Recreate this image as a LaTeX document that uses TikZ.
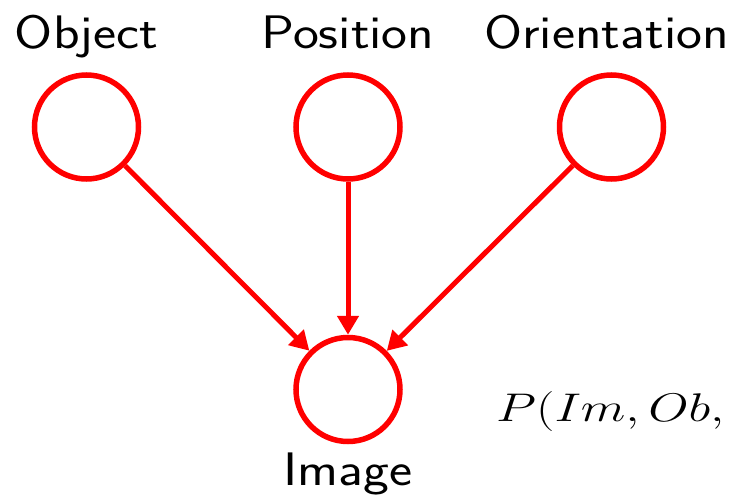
\RequirePackage{fix-cm}
\documentclass[tikz,border=0pt]{standalone}
\usepackage{graphicx}
\usetikzlibrary{positioning,arrows.meta}
\newcommand{\wide}[1]{\scalebox{1.17}[1]{#1}}
\begin{document}
\begin{tikzpicture}[x=1pt,y=-1pt,
  var/.style={circle,draw=red,line width=5.5pt,minimum size=104pt,inner sep=0pt},
  lbl/.style={font=\fontsize{47}{50}\sffamily,inner sep=0pt,anchor=base},
  dep/.style={draw=red,line width=5pt,-{Triangle[length=19pt,width=21pt]}}]
\useasboundingbox (0,0) rectangle (737,501);
\node[var] (p) at (348,127) {};
\node[var,left=152pt of p] (o) {};
\node[var,right=154pt of p] (r) {};
\node[var,below=153pt of p] (i) {};
\node[lbl] (ot) at ([yshift=24pt]o.north) {\wide{Object}};
\node[lbl] (pt) at ([yshift=24pt]p.north) {\wide{Position}};
\node[lbl] (rt) at ([xshift=-5pt,yshift=24pt]r.north) {\wide{Orientation}};
\node[lbl] (it) at ([yshift=-41pt]i.south) {\wide{Image}};
\node[font=\fontsize{40}{44}\selectfont,inner sep=0pt,anchor=base west] (f) at (496,421) {\scalebox{1.3}[1]{$P(Im,Ob,$}};
\path[dep] (o) -- (i);
\path[dep] (p) -- (i);
\path[dep] (r) -- (i);
\end{tikzpicture}
\end{document}
